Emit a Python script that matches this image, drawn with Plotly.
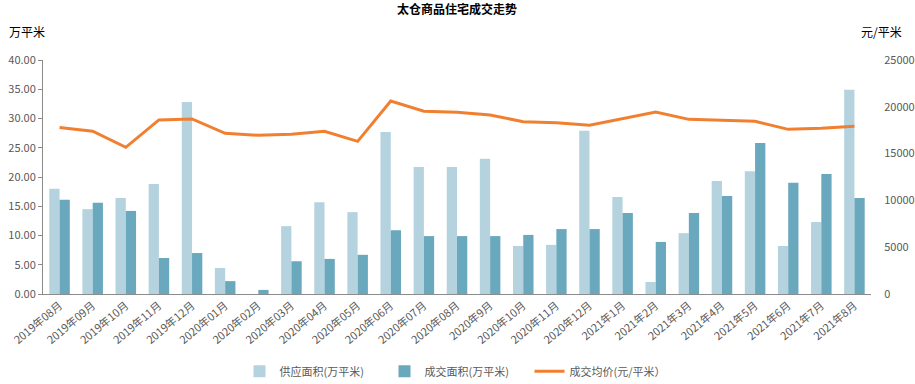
import plotly.graph_objects as go

months = ["2019年08月", "2019年09月", "2019年10月", "2019年11月", "2019年12月",
          "2020年01月", "2020年02月", "2020年03月", "2020年04月", "2020年05月",
          "2020年06月", "2020年07月", "2020年08月", "2020年9月", "2020年10月",
          "2020年11月", "2020年12月", "2021年1月", "2021年2月", "2021年3月",
          "2021年4月", "2021年5月", "2021年6月", "2021年7月", "2021年8月"]

supply = [18.0, 14.5, 16.4, 18.8, 32.8, 4.45, 0.0, 11.6, 15.7, 14.0,
          27.7, 21.7, 21.7, 23.1, 8.2, 8.4, 27.9, 16.6, 2.05, 10.4,
          19.3, 21.0, 8.2, 12.3, 34.9]

deal = [16.1, 15.6, 14.2, 6.15, 7.0, 2.2, 0.7, 5.6, 6.0, 6.7,
        10.9, 9.9, 9.9, 9.9, 10.1, 11.1, 11.1, 13.85, 8.9, 13.85,
        16.75, 25.8, 19.0, 20.5, 16.4]

price = [17800, 17400, 15670, 18600, 18700, 17170, 16950, 17060, 17380, 16310,
         20620, 19520, 19410, 19120, 18410, 18300, 18020, 18700, 19440, 18660,
         18550, 18450, 17590, 17700, 17920]

font = "Noto Sans CJK SC"
gray = "#595959"

fig = go.Figure()
fig.add_trace(go.Bar(x=months, y=supply, name="供应面积(万平米)",
                     marker=dict(color="#B4D3DE", line=dict(width=0))))
fig.add_trace(go.Bar(x=months, y=deal, name="成交面积(万平米)",
                     marker=dict(color="#6AA8BE", line=dict(width=0))))
fig.add_trace(go.Scatter(x=months, y=price, name="成交均价(元/平米）", yaxis="y2",
                         mode="lines", line=dict(color="#F08030", width=3)))

fig.update_layout(
    width=915, height=384,
    margin=dict(l=43, r=44, t=60, b=90, autoexpand=False),
    paper_bgcolor="white", plot_bgcolor="white",
    font=dict(family=font, size=11, color=gray),
    barmode="group", bargap=0.38, bargroupgap=0.0,
    xaxis=dict(tickangle=-40, showline=True, linecolor="#8C8C8C", linewidth=1,
               ticks="", showgrid=False, automargin=False,
               tickfont=dict(size=11, color=gray)),
    yaxis=dict(range=[0, 40], dtick=5, tickformat=".2f", showgrid=False,
               showline=True, linecolor="#8C8C8C", ticks="outside", ticklen=4,
               tickcolor="#8C8C8C", zeroline=False, automargin=False,
               tickfont=dict(size=11, color=gray)),
    yaxis2=dict(range=[0, 25000], dtick=5000, tickformat="d", overlaying="y",
                side="right", showgrid=False, showline=False, zeroline=False,
                ticks="outside", ticklen=10, tickcolor="white", automargin=False,
                tickfont=dict(size=11, color=gray)),
    legend=dict(orientation="h", x=0.5, xanchor="center", y=-0.33, yanchor="middle",
                font=dict(size=11, color=gray), traceorder="normal",
                entrywidth=100, entrywidthmode="pixels", itemwidth=30),
    showlegend=True,
)

fig.add_annotation(text="<b>太仓商品住宅成交走势</b>", xref="paper", yref="paper",
                   x=0.5, y=1.222, xanchor="center", yanchor="middle", showarrow=False,
                   font=dict(size=12, color="black"))
fig.add_annotation(text="万平米", xref="paper", yref="paper", x=-0.0435, y=1.12,
                   xanchor="left", yanchor="middle", showarrow=False,
                   font=dict(size=12, color="black"))
fig.add_annotation(text="元/平米", xref="paper", yref="paper", x=1.04, y=1.12,
                   xanchor="right", yanchor="middle", showarrow=False,
                   font=dict(size=12, color="black"))

fig.write_html("out.html", config={"displayModeBar": False},
               post_script="document.body.style.margin='0';")
